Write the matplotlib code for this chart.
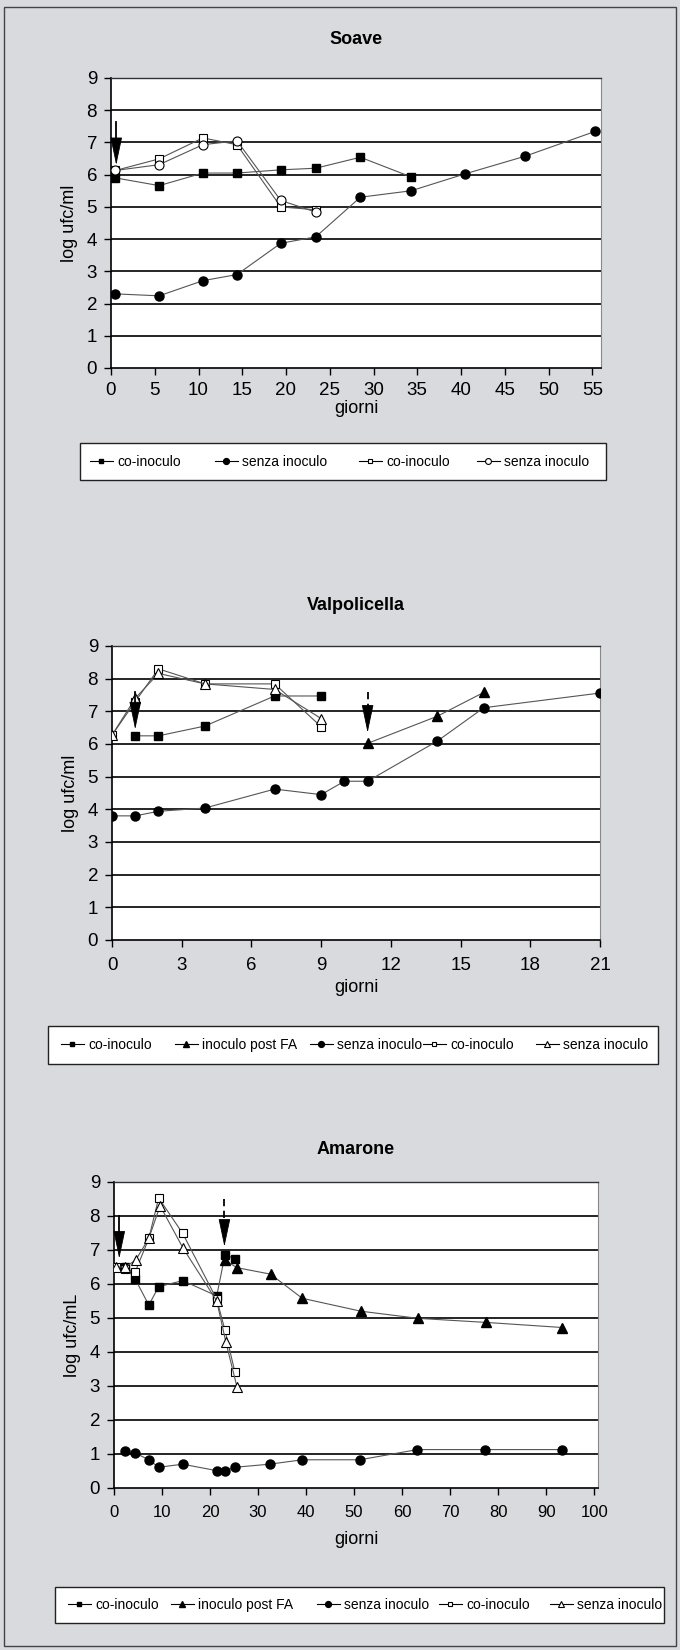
import matplotlib
matplotlib.use('Agg')
import matplotlib.pyplot as plt
from matplotlib.lines import Line2D
from matplotlib.patches import Rectangle

# ---- data ----
# Soave
soave_x = [0.5, 5.5, 10.5, 14.4, 19.4, 23.4, 28.5, 34.3, 40.4, 47.3, 55.3]
soave_co = [5.9, 5.66, 6.05, 6.05, 6.15, 6.2, 6.54, 5.93]
soave_senza = [2.3, 2.24, 2.71, 2.9, 3.87, 4.07, 5.3, 5.5, 6.02, 6.57, 7.34]
soave_co_open = [6.13, 6.49, 7.14, 6.93, 5.0, 4.91]
soave_senza_open = [6.13, 6.31, 6.93, 7.05, 5.2, 4.84]
soave_arrows = [(0.6, 7.65, 6.3, 'solid')]

# Valpolicella
valp_x_co = [1, 2, 4, 7, 9]
valp_co = [6.25, 6.25, 6.55, 7.47, 7.47]
valp_x_post = [11, 14, 16]
valp_post = [6.02, 6.85, 7.58]
valp_x_senza = [0, 1, 2, 4, 7, 9, 10, 11, 14, 16, 21]
valp_senza = [3.8, 3.8, 3.94, 4.04, 4.62, 4.45, 4.86, 4.86, 6.09, 7.11, 7.56]
valp_x_open = [0, 1, 2, 4, 7, 9]
valp_co_open = [6.27, 7.3, 8.3, 7.84, 7.84, 6.53]
valp_senza_open = [6.27, 7.4, 8.16, 7.84, 7.67, 6.78]
valp_arrows = [(1, 7.6, 6.45, 'solid'), (11, 7.6, 6.35, 'dashed')]

# Amarone
amar_x_co = [2.3, 4.4, 7.25, 9.3, 14.3, 21.4, 23.1, 25.2]
amar_co = [6.5, 6.15, 5.38, 5.92, 6.1, 5.65, 6.85, 6.75]
amar_x_post = [23.1, 25.6, 32.6, 39.2, 51.4, 63.3, 77.5, 93.4]
amar_post = [6.7, 6.48, 6.29, 5.58, 5.2, 4.99, 4.87, 4.72]
amar_x_senza = [2.3, 4.4, 7.25, 9.3, 14.3, 21.4, 23.1, 25.2, 32.4, 39.2, 51.2, 63.2, 77.3, 93.2]
amar_senza = [1.08, 1.03, 0.83, 0.61, 0.7, 0.51, 0.51, 0.61, 0.7, 0.83, 0.83, 1.13, 1.13, 1.13]
amar_x_co_open = [0.5, 2.3, 4.4, 7.25, 9.3, 14.3, 21.4, 23.1, 25.2]
amar_co_open = [6.5, 6.45, 6.35, 7.34, 8.53, 7.49, 5.55, 4.65, 3.4]
amar_x_senza_open = [0.5, 2.3, 4.5, 7.25, 9.6, 14.4, 21.4, 23.3, 25.6]
amar_senza_open = [6.5, 6.5, 6.7, 7.34, 8.3, 7.05, 5.5, 4.29, 2.98]
amar_arrows = [(1.1, 8.0, 6.75, 'solid'), (23.0, 8.5, 7.1, 'dashed')]

labels_3 = ['co-inoculo', 'inoculo post FA', 'senza inoculo', 'co-inoculo', 'senza inoculo']
labels_soave = ['co-inoculo', 'senza inoculo', 'co-inoculo', 'senza inoculo']

# ---- styles ----
plt.rcParams['font.family'] = ['Liberation Sans', 'DejaVu Sans']

BG = '#d9dade'
LINE = '#555555'
styles = {
    'co': dict(marker='s', ms=5.5, mfc='black', mec='black'),
    'post': dict(marker='^', ms=7, mfc='black', mec='black'),
    'senza': dict(marker='o', ms=6.5, mfc='black', mec='black'),
    'co_open': dict(marker='s', ms=5.5, mfc='white', mec='black', mew=0.8),
    'senza_open_c': dict(marker='o', ms=6.5, mfc='white', mec='black', mew=0.8),
    'senza_open_t': dict(marker='^', ms=7.5, mfc='white', mec='black', mew=0.8),
}

W, H = 680, 1650
fig = plt.figure(figsize=(W / 100, H / 100), dpi=100)
fig.patch.set_facecolor(BG)
fig.patches.append(Rectangle((4 / W, 4 / H), 1 - 8 / W, 1 - 11 / H, transform=fig.transFigure,
                             fill=False, edgecolor='#444444', lw=1))


def px_axes(left, top, right, bottom):
    return fig.add_axes([left / W, 1 - bottom / H, (right - left) / W, (bottom - top) / H])


def style_axes(ax, xmax, xticks, ylabel, xpad, lpad):
    ax.set_facecolor('white')
    ax.set_xlim(0, xmax)
    ax.set_ylim(0, 9)
    ax.set_yticks(range(10))
    ax.set_xticks(xticks)
    for y in range(1, 9):
        ax.axhline(y, color='black', lw=1.2, zorder=1)
    for s in ['left', 'bottom']:
        ax.spines[s].set_color('black')
        ax.spines[s].set_linewidth(1.2)
    ax.spines['top'].set_color('#333333')
    ax.spines['top'].set_linewidth(1.0)
    ax.spines['right'].set_color('#888888')
    ax.spines['right'].set_linewidth(0.8)
    ax.tick_params(direction='out', length=5, width=1, labelsize=13.5)
    ax.tick_params(axis='x', pad=xpad)
    ax.tick_params(axis='y', pad=5)
    ax.set_ylabel(ylabel, fontsize=13, labelpad=6)
    ax.set_xlabel('giorni', fontsize=13, labelpad=lpad)


def series(ax, x, y, key):
    ax.plot(x, y, color=LINE, lw=0.8, zorder=3, **styles[key])


def arrows(ax, arr):
    for x, y0, y1, ls in arr:
        ax.plot([x, x], [y0, y1 + 0.3], color='black', lw=1.3, zorder=5,
                linestyle='-' if ls == 'solid' else (0, (4, 2.5)))
        ax.annotate('', xy=(x, y1), xytext=(x, y1 + 0.6),
                    arrowprops=dict(arrowstyle='-|>,head_length=1.8,head_width=0.38',
                                    color='black', lw=0.6, mutation_scale=10,
                                    shrinkA=0, shrinkB=0), zorder=5)


def legend(keys, labels, box, starts):
    left, top, right, bottom = box
    fig.patches.append(Rectangle((left / W, 1 - bottom / H), (right - left) / W, (bottom - top) / H,
                                 transform=fig.transFigure, facecolor='white',
                                 edgecolor='#222222', lw=1.0, zorder=2))
    yc = 1 - (top + bottom) / 2 / H
    for k, lab, x in zip(keys, labels, starts):
        h = Line2D([], [], color='black', lw=0.8, **{**styles[k], 'ms': styles[k]['ms'] * 0.65})
        leg = fig.legend([h], [lab], loc='center left', bbox_to_anchor=(x / W, yc),
                         fontsize=10, handlelength=1.65, handletextpad=0.3,
                         borderpad=0, borderaxespad=0, frameon=False)
        leg.set_zorder(3)


def title(ax, text, y):
    pos = ax.get_position()
    fig.text((pos.x0 + pos.x1) / 2, 1 - y / H, text, ha='center', va='center',
             fontsize=13, fontweight='bold')


# ---- Soave ----
ax1 = px_axes(111, 78, 601, 368)
style_axes(ax1, 56, range(0, 56, 5), 'log ufc/ml', 5, 1)
series(ax1, soave_x[:len(soave_co)], soave_co, 'co')
series(ax1, soave_x, soave_senza, 'senza')
series(ax1, soave_x[:len(soave_co_open)], soave_co_open, 'co_open')
series(ax1, soave_x[:len(soave_senza_open)], soave_senza_open, 'senza_open_c')
arrows(ax1, soave_arrows)
title(ax1, 'Soave', 40)
legend(['co', 'senza', 'co_open', 'senza_open_c'], labels_soave,
       (80, 443, 606, 480), [90, 215, 359, 477])

# ---- Valpolicella ----
ax2 = px_axes(112, 646, 600, 940)
style_axes(ax2, 21, range(0, 22, 3), 'log ufc/ml', 7, 4)
series(ax2, valp_x_co, valp_co, 'co')
series(ax2, valp_x_post, valp_post, 'post')
series(ax2, valp_x_senza, valp_senza, 'senza')
series(ax2, valp_x_open, valp_co_open, 'co_open')
series(ax2, valp_x_open, valp_senza_open, 'senza_open_t')
arrows(ax2, valp_arrows)
title(ax2, 'Valpolicella', 606)
legend(['co', 'post', 'senza', 'co_open', 'senza_open_t'], labels_3,
       (48, 1026, 658, 1064), [61, 175, 310, 423, 536])

# ---- Amarone ----
ax3 = px_axes(114, 1182, 598, 1488)
style_axes(ax3, 100.8, range(0, 101, 10), 'log ufc/mL', 7, 8)
series(ax3, amar_x_co, amar_co, 'co')
series(ax3, amar_x_post, amar_post, 'post')
series(ax3, amar_x_senza, amar_senza, 'senza')
series(ax3, amar_x_co_open, amar_co_open, 'co_open')
series(ax3, amar_x_senza_open, amar_senza_open, 'senza_open_t')
arrows(ax3, amar_arrows)
ax3.tick_params(axis='x', labelsize=12)
title(ax3, 'Amarone', 1150)
legend(['co', 'post', 'senza', 'co_open', 'senza_open_t'], labels_3,
       (55, 1587, 664, 1623), [68, 171, 317, 439, 550])

fig.savefig('out.png', dpi=100, facecolor=BG)
